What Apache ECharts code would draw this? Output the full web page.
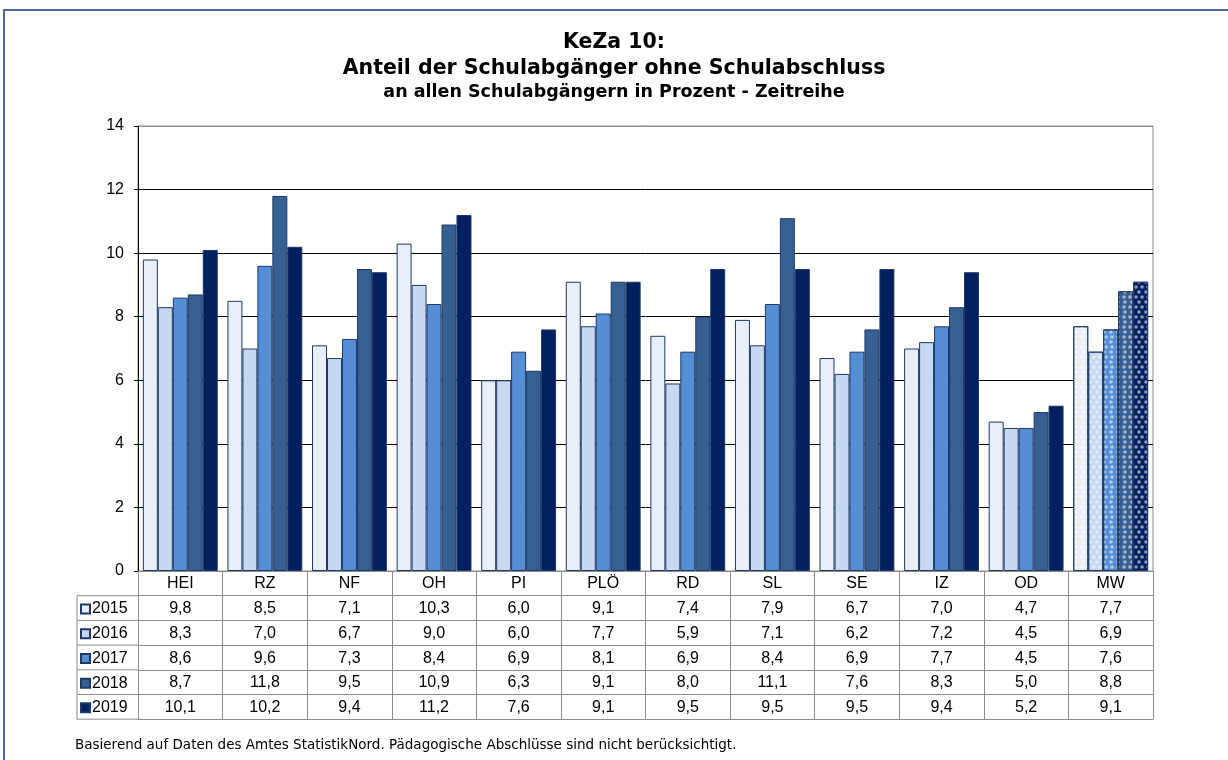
<!DOCTYPE html>
<html>
<head>
<meta charset="utf-8">
<script src="https://cdn.jsdelivr.net/npm/echarts@6/dist/echarts.min.js"></script>
<style>
html,body{margin:0;padding:0;background:#fff;}
#c{width:1228px;height:760px;}
</style>
</head>
<body>
<div id="c"></div>
<script>
// ---- data ----
var titleLine1 = 'KeZa 10:';
var titleLine2 = 'Anteil der Schulabgänger ohne Schulabschluss';
var subtitle = 'an allen Schulabgängern in Prozent - Zeitreihe';
var footnote = 'Basierend auf Daten des Amtes StatistikNord. Pädagogische Abschlüsse sind nicht berücksichtigt.';
var categories = ['HEI', 'RZ', 'NF', 'OH', 'PI', 'PLÖ', 'RD', 'SL', 'SE', 'IZ', 'OD', 'MW'];
var years = ['2015', '2016', '2017', '2018', '2019'];
var v2015 = [9.8, 8.5, 7.1, 10.3, 6.0, 9.1, 7.4, 7.9, 6.7, 7.0, 4.7, 7.7];
var v2016 = [8.3, 7.0, 6.7, 9.0, 6.0, 7.7, 5.9, 7.1, 6.2, 7.2, 4.5, 6.9];
var v2017 = [8.6, 9.6, 7.3, 8.4, 6.9, 8.1, 6.9, 8.4, 6.9, 7.7, 4.5, 7.6];
var v2018 = [8.7, 11.8, 9.5, 10.9, 6.3, 9.1, 8.0, 11.1, 7.6, 8.3, 5.0, 8.8];
var v2019 = [10.1, 10.2, 9.4, 11.2, 7.6, 9.1, 9.5, 9.5, 9.5, 9.4, 5.2, 9.1];
var yTicks = [0, 2, 4, 6, 8, 10, 12, 14];
var values = [v2015, v2016, v2017, v2018, v2019];
var colors = ['#E9EFF9', '#C6D9F1', '#558ED5', '#376092', '#002060'];
var highlightCategory = 'MW';

// ---- layout ----
var gridLeft = 138, gridRight = 1153, gridTop = 126, gridBottom = 571;
var rowH = 24.7;
var legendLeft = 77;
var tableLine = '#8c8c8c';
var bodyFont = 'Liberation Sans, Arial, sans-serif';
var titleFont = 'DejaVu Sans, sans-serif';
var tableFontSize = 16;
var fmt = function (v) { return v.toFixed(1).replace('.', ','); };

var chart = echarts.init(document.getElementById('c'), null, {renderer: 'canvas'});

var series = years.map(function (y, i) {
  return {
    name: y,
    type: 'bar',
    barGap: '0%',
    barCategoryGap: '11.5%',
    itemStyle: {color: colors[i], borderColor: '#1F3864', borderWidth: 1},
    emphasis: {disabled: true},
    data: values[i].map(function (v, j) {
      if (categories[j] === highlightCategory) {
        return {
          value: v,
          itemStyle: {
            decal: {
              symbol: 'circle', symbolSize: 0.9,
              color: 'rgba(255,255,255,0.55)',
              dashArrayX: [[4, 2], [0, 3, 4, 0]],
              dashArrayY: [4, 1]
            }
          }
        };
      }
      return v;
    })
  };
});

var xAxes = [{
  type: 'category', data: categories, gridIndex: 0, position: 'bottom',
  axisLine: {lineStyle: {color: tableLine, width: 1}},
  axisTick: {show: true, inside: false, length: rowH, lineStyle: {color: tableLine}},
  axisLabel: {color: '#000', fontSize: tableFontSize, fontFamily: bodyFont, margin: 5, interval: 0}
}];
values.forEach(function (arr, k) {
  xAxes.push({
    type: 'category', data: categories, gridIndex: 0, position: 'bottom',
    offset: rowH * (k + 1),
    axisLine: {lineStyle: {color: tableLine, width: 1}},
    axisTick: {show: true, inside: false, length: rowH, lineStyle: {color: tableLine}},
    axisLabel: {
      color: '#000', fontSize: tableFontSize, fontFamily: bodyFont, margin: 5, interval: 0,
      formatter: function (val, idx) { return fmt(arr[idx]); }
    }
  });
});
xAxes.push({
  type: 'category', data: categories, gridIndex: 0, position: 'bottom',
  offset: rowH * 6,
  axisLine: {lineStyle: {color: tableLine, width: 1}},
  axisTick: {show: false}, axisLabel: {show: false}
});

var graphics = [
  {type: 'rect', shape: {x: 4, y: 10, width: 1400, height: 1000}, style: {fill: 'none', stroke: '#4F6A96', lineWidth: 2}, silent: true}
];
for (var r = 1; r <= 6; r++) {
  graphics.push({type: 'line', shape: {x1: legendLeft, y1: gridBottom + rowH * r, x2: gridLeft, y2: gridBottom + rowH * r},
    style: {stroke: tableLine, lineWidth: 1}, silent: true});
}
graphics.push({type: 'line', shape: {x1: legendLeft, y1: gridBottom + rowH, x2: legendLeft, y2: gridBottom + rowH * 6},
  style: {stroke: tableLine, lineWidth: 1}, silent: true});

var legends = years.map(function (y, i) {
  return {
    data: [y], orient: 'vertical', left: legendLeft - 2, top: gridBottom + rowH * (i + 1) + (rowH - 18) / 2 - 5 + 1,
    itemWidth: 9, itemHeight: 9, icon: 'rect', selectedMode: false, itemGap: 0,
    textStyle: {fontSize: tableFontSize, color: '#000', fontFamily: bodyFont, lineHeight: 18, padding: [0, 0, 0, -3]}
  };
});

var option = {
  backgroundColor: '#fff',
  animation: false,
  title: [{
    text: titleLine1 + '\n' + titleLine2,
    subtext: subtitle,
    left: 'center', top: 30, itemGap: 0, padding: 0,
    textStyle: {fontSize: 20.5, fontWeight: 'bold', color: '#000', fontFamily: titleFont, lineHeight: 26},
    subtextStyle: {fontSize: 17.5, fontWeight: 'bold', color: '#000', fontFamily: titleFont, lineHeight: 20}
  }, {
    text: footnote, left: 75, top: 738, padding: 0,
    textStyle: {fontSize: 13.5, fontWeight: 'normal', color: '#000', fontFamily: titleFont}
  }],
  legend: legends,
  grid: {left: gridLeft, right: 1228 - gridRight, top: gridTop, bottom: 760 - gridBottom,
    show: true, borderColor: '#8c8c8c', borderWidth: 1, backgroundColor: 'transparent'},
  xAxis: xAxes,
  yAxis: {
    type: 'value', min: yTicks[0], max: yTicks[yTicks.length - 1], interval: 2,
    axisLine: {show: true, lineStyle: {color: '#000'}},
    axisTick: {show: true, inside: false, length: 4, lineStyle: {color: '#000'}},
    axisLabel: {color: '#000', fontSize: tableFontSize, fontFamily: bodyFont, margin: 14},
    splitLine: {show: true, lineStyle: {color: ['#8c8c8c', '#000', '#000', '#000', '#000', '#000', '#000', '#8c8c8c'], width: 1}}
  },
  series: series,
  graphic: graphics
};
chart.setOption(option);
</script>
</body>
</html>
